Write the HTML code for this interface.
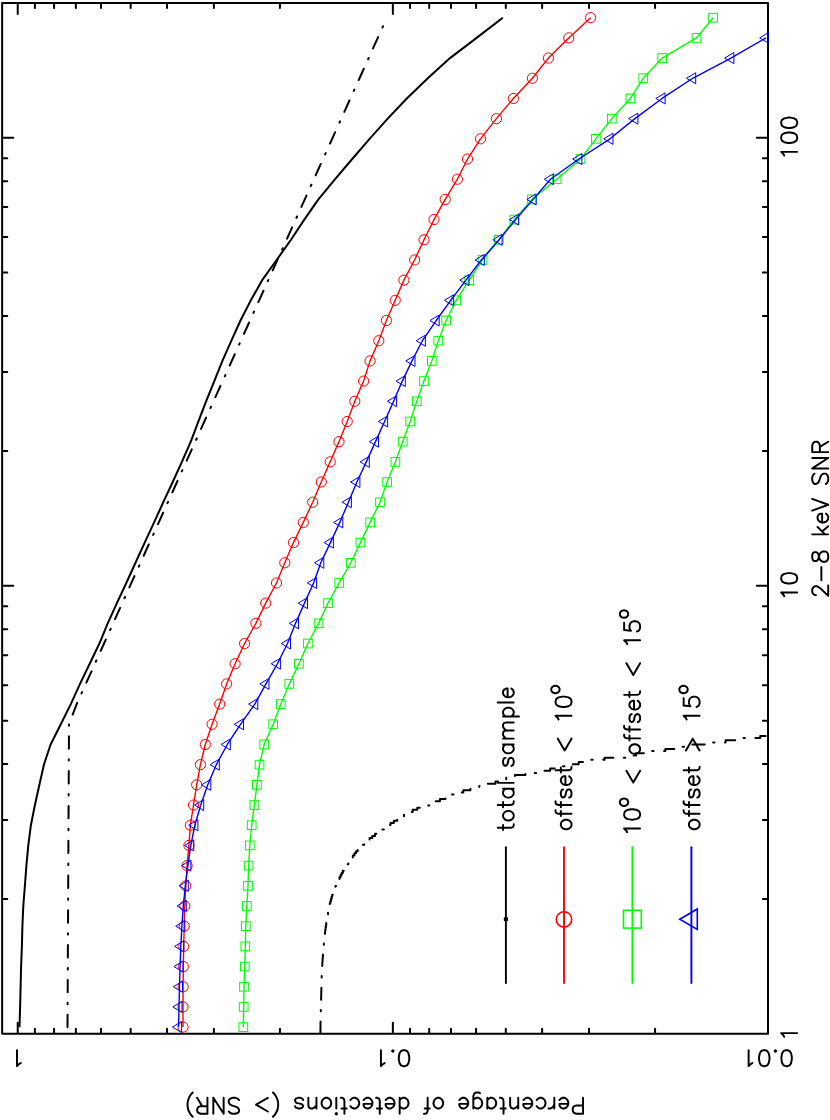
<!DOCTYPE html>
<html><head><meta charset="utf-8"><title>chart</title>
<style>html,body{margin:0;padding:0;background:#fff;font-family:"Liberation Sans",sans-serif;}svg{display:block}</style>
</head><body>
<svg width="830" height="1120" viewBox="0 0 830 1120">
<rect width="830" height="1120" fill="#fff"/>
<path d="M2.15 2.95 H768.00 V1033.85 H2.15 Z M17.73 1033.85 v-11.10 M17.73 2.95 v11.10 M392.86 1033.85 v-11.10 M392.86 2.95 v11.10 M279.93 1033.85 v-5.10 M279.93 2.95 v5.10 M213.88 1033.85 v-5.10 M213.88 2.95 v5.10 M167.01 1033.85 v-5.10 M167.01 2.95 v5.10 M130.66 1033.85 v-5.10 M130.66 2.95 v5.10 M100.95 1033.85 v-5.10 M100.95 2.95 v5.10 M75.84 1033.85 v-5.10 M75.84 2.95 v5.10 M54.08 1033.85 v-5.10 M54.08 2.95 v5.10 M34.90 1033.85 v-5.10 M34.90 2.95 v5.10 M767.99 1033.85 v-11.10 M767.99 2.95 v11.10 M655.06 1033.85 v-5.10 M655.06 2.95 v5.10 M589.01 1033.85 v-5.10 M589.01 2.95 v5.10 M542.14 1033.85 v-5.10 M542.14 2.95 v5.10 M505.79 1033.85 v-5.10 M505.79 2.95 v5.10 M476.08 1033.85 v-5.10 M476.08 2.95 v5.10 M450.97 1033.85 v-5.10 M450.97 2.95 v5.10 M429.21 1033.85 v-5.10 M429.21 2.95 v5.10 M410.03 1033.85 v-5.10 M410.03 2.95 v5.10 M768.00 1033.85 h-11.10 M2.15 1033.85 h11.10 M768.00 898.97 h-5.10 M2.15 898.97 h5.10 M768.00 820.07 h-5.10 M2.15 820.07 h5.10 M768.00 764.08 h-5.10 M2.15 764.08 h5.10 M768.00 720.66 h-5.10 M2.15 720.66 h5.10 M768.00 685.18 h-5.10 M2.15 685.18 h5.10 M768.00 655.19 h-5.10 M2.15 655.19 h5.10 M768.00 629.20 h-5.10 M2.15 629.20 h5.10 M768.00 606.28 h-5.10 M2.15 606.28 h5.10 M768.00 585.78 h-11.10 M2.15 585.78 h11.10 M768.00 450.90 h-5.10 M2.15 450.90 h5.10 M768.00 372.00 h-5.10 M2.15 372.00 h5.10 M768.00 316.01 h-5.10 M2.15 316.01 h5.10 M768.00 272.59 h-5.10 M2.15 272.59 h5.10 M768.00 237.11 h-5.10 M2.15 237.11 h5.10 M768.00 207.12 h-5.10 M2.15 207.12 h5.10 M768.00 181.13 h-5.10 M2.15 181.13 h5.10 M768.00 158.21 h-5.10 M2.15 158.21 h5.10 M768.00 137.71 h-11.10 M2.15 137.71 h11.10" fill="none" stroke="#000" stroke-width="2.00" stroke-linecap="round" stroke-linejoin="round"/>
<path d="M19.50 1027.10 L20.10 1006.91 L20.60 986.72 L21.10 966.54 L21.90 946.35 L22.40 926.16 L23.30 905.97 L24.90 885.78 L26.40 865.60 L28.30 845.41 L30.90 825.22 L34.90 805.03 L39.40 784.84 L43.90 764.66 L50.60 744.47 L60.80 724.28 L70.80 704.09 L80.00 683.90 L89.70 663.72 L99.40 643.53 L107.70 623.34 L116.90 603.15 L126.30 582.96 L135.50 562.78 L144.70 542.59 L154.10 522.40 L163.30 502.21 L172.70 482.02 L181.90 461.84 L190.80 441.65 L198.40 421.46 L206.10 401.27 L214.30 381.08 L222.40 360.90 L231.40 340.71 L240.50 320.52 L250.80 300.33 L262.20 280.14 L276.60 259.96 L291.00 239.77 L304.30 219.58 L318.40 199.39 L335.10 179.20 L352.20 159.02 L369.60 138.83 L387.70 118.64 L406.80 98.45 L427.80 78.26 L450.00 58.08 L476.60 37.89 L502.80 17.70" fill="none" stroke="#000" stroke-width="2.00" stroke-linejoin="round" stroke-linecap="butt"/>
<path d="M67.50 1027.10 L67.60 1006.91 L67.70 986.72 L67.80 966.54 L67.90 946.35 L68.00 926.16 L68.10 905.97 L68.20 885.78 L68.30 865.60 L68.40 845.41 L68.50 825.22 L68.60 805.03 L68.70 784.84 L68.80 764.66 L68.90 744.47 L69.00 724.28 L76.64 704.09 L85.77 683.90 L94.89 663.72 L104.02 643.53 L113.14 623.34 L122.27 603.15 L131.39 582.96 L140.52 562.78 L149.64 542.59 L158.77 522.40 L167.89 502.21 L177.02 482.02 L186.14 461.84 L195.27 441.65 L204.39 421.46 L213.52 401.27 L222.64 381.08 L231.77 360.90 L240.89 340.71 L250.02 320.52 L259.14 300.33 L268.27 280.14 L277.39 259.96 L286.52 239.77 L295.64 219.58 L304.77 199.39 L313.89 179.20 L323.02 159.02 L332.14 138.83 L341.27 118.64 L350.39 98.45 L359.52 78.26 L368.64 58.08 L377.77 37.89 L386.89 17.70" fill="none" stroke="#000" stroke-width="2.00" stroke-dasharray="12.4 10.5 1.4 10.5" stroke-linejoin="round" stroke-linecap="round"/>
<clipPath id="cp"><rect x="2.15" y="2.95" width="765.85" height="1030.90"/></clipPath>
<path clip-path="url(#cp)" d="M320.40 1033.85 L320.40 1031.70 L320.44 1031.70 L320.44 1029.53 L320.47 1029.53 L320.47 1027.35 L320.50 1027.35 L320.50 1025.17 L320.53 1025.17 L320.53 1023.00 L320.56 1023.00 L320.56 1020.82 L320.59 1020.82 L320.59 1018.65 L320.64 1018.65 L320.64 1016.47 L320.69 1016.47 L320.69 1014.30 L320.75 1014.30 L320.75 1012.12 L320.81 1012.12 L320.81 1009.95 L320.87 1009.95 L320.87 1007.77 L320.92 1007.77 L320.92 1005.60 L320.98 1005.60 L320.98 1003.42 L321.04 1003.42 L321.04 1001.25 L321.10 1001.25 L321.10 999.07 L321.15 999.07 L321.15 996.90 L321.20 996.90 L321.20 994.72 L321.26 994.72 L321.26 992.55 L321.31 992.55 L321.31 990.38 L321.36 990.38 L321.36 988.20 L321.42 988.20 L321.42 986.02 L321.47 986.02 L321.47 983.85 L321.52 983.85 L321.52 981.67 L321.58 981.67 L321.58 979.50 L321.63 979.50 L321.63 977.32 L321.68 977.32 L321.68 975.15 L321.78 975.15 L321.78 972.97 L321.90 972.97 L321.90 970.80 L322.03 970.80 L322.03 968.62 L322.15 968.62 L322.15 966.45 L322.27 966.45 L322.27 964.27 L322.39 964.27 L322.39 962.10 L322.51 962.10 L322.51 959.92 L322.64 959.92 L322.64 957.75 L322.82 957.75 L322.82 955.57 L322.99 955.57 L322.99 953.40 L323.17 953.40 L323.17 951.22 L323.35 951.22 L323.35 949.05 L323.53 949.05 L323.53 946.88 L323.70 946.88 L323.70 944.70 L323.88 944.70 L323.88 942.52 L324.11 942.52 L324.11 940.35 L324.35 940.35 L324.35 938.17 L324.58 938.17 L324.58 936.00 L324.81 936.00 L324.81 933.82 L325.05 933.82 L325.05 931.65 L325.28 931.65 L325.28 929.47 L325.61 929.47 L325.61 927.30 L325.94 927.30 L325.94 925.12 L326.27 925.12 L326.27 922.95 L326.60 922.95 L326.60 920.77 L326.93 920.77 L326.93 918.60 L327.26 918.60 L327.26 916.42 L327.61 916.42 L327.61 914.25 L328.04 914.25 L328.04 912.07 L328.47 912.07 L328.47 909.90 L328.89 909.90 L328.89 907.72 L329.32 907.72 L329.32 905.55 L329.75 905.55 L329.75 903.38 L330.34 903.38 L330.34 901.20 L330.96 901.20 L330.96 899.02 L331.58 899.02 L331.58 896.85 L332.20 896.85 L332.20 894.67 L332.82 894.67 L332.82 892.50 L333.67 892.50 L333.67 890.32 L334.57 890.32 L334.57 888.15 L335.46 888.15 L335.46 885.97 L336.39 885.97 L336.39 883.80 L337.43 883.80 L337.43 881.62 L338.46 881.62 L338.46 879.45 L339.50 879.45 L339.50 877.27 L340.57 877.27 L340.57 875.10 L341.68 875.10 L341.68 872.92 L342.80 872.92 L342.80 870.75 L343.91 870.75 L343.91 868.57 L345.30 868.57 L345.30 866.40 L346.84 866.40 L346.84 864.22 L348.37 864.22 L348.37 862.05 L349.86 862.05 L349.86 859.88 L351.34 859.88 L351.34 857.70 L352.84 857.70 L352.84 855.52 L354.45 855.52 L354.45 853.35 L356.06 853.35 L356.06 851.17 L357.67 851.17 L357.67 849.00 L359.74 849.00 L359.74 846.82 L361.99 846.82 L361.99 844.65 L364.27 844.65 L364.27 842.47 L366.92 842.47 L366.92 840.30 L369.58 840.30 L369.58 838.12 L372.23 838.12 L372.23 835.95 L375.04 835.95 L375.04 833.77 L377.99 833.77 L377.99 831.60 L380.94 831.60 L380.94 829.42 L383.90 829.42 L383.90 827.25 L387.20 827.25 L387.20 825.07 L390.51 825.07 L390.51 822.90 L393.82 822.90 L393.82 820.72 L397.22 820.72 L397.22 818.55 L400.62 818.55 L400.62 816.38 L404.02 816.38 L404.02 814.20 L408.18 814.20 L408.18 812.02 L412.68 812.02 L412.68 809.85 L417.28 809.85 L417.28 807.67 L423.23 807.67 L423.23 805.50 L429.19 805.50 L429.19 803.32 L434.57 803.32 L434.57 801.15 L439.92 801.15 L439.92 798.98 L445.46 798.98 L445.46 796.80 L451.10 796.80 L451.10 794.62 L456.99 794.62 L456.99 792.45 L463.28 792.45 L463.28 790.27 L470.41 790.27 L470.41 788.10 L479.31 788.10 L479.31 785.92 L487.66 785.92 L487.66 783.75 L495.43 783.75 L495.43 781.57 L500.81 781.57 L500.81 779.40 L506.18 779.40 L506.18 777.23 L514.88 777.23 L514.88 775.05 L525.41 775.05 L525.41 772.88 L537.65 772.88 L537.65 770.70 L550.18 770.70 L550.18 768.52 L560.02 768.52 L560.02 766.35 L569.45 766.35 L569.45 764.17 L578.67 764.17 L578.67 762.00 L591.00 762.00 L591.00 759.82 L604.57 759.82 L604.57 757.65 L625.47 757.65 L625.47 755.48 L636.07 755.48 L636.07 753.30 L647.93 753.30 L647.93 751.12 L665.32 751.12 L665.32 748.95 L679.98 748.95 L679.98 746.77 L688.03 746.77 L688.03 744.60 L710.97 744.60 L710.97 742.42 L725.62 742.42 L725.62 740.25 L741.98 740.25 L741.98 738.07 L760.22 738.07 L760.22 735.90 L774.92 735.90" fill="none" stroke="#000" stroke-width="2.00" stroke-dasharray="12.4 10.5 1.4 10.5" stroke-linejoin="round" stroke-linecap="round"/>
<g fill="none" stroke="#f00" stroke-linejoin="round">
<path d="M183.00 1027.10 L183.00 1006.91 L183.10 986.72 L183.30 966.54 L183.70 946.35 L184.20 926.16 L184.80 905.97 L185.80 885.78 L187.10 865.60 L188.90 845.41 L190.40 825.22 L193.50 805.03 L196.70 784.84 L200.40 764.66 L205.30 744.47 L212.10 724.28 L219.70 704.09 L226.60 683.90 L235.10 663.72 L244.60 643.53 L255.90 623.34 L265.70 603.15 L276.50 582.96 L284.80 562.78 L293.50 542.59 L303.30 522.40 L312.70 502.21 L321.30 482.02 L330.20 461.84 L339.00 441.65 L347.20 421.46 L354.80 401.27 L363.60 381.08 L370.10 360.90 L378.80 340.71 L386.40 320.52 L395.20 300.33 L403.90 280.14 L414.60 259.96 L424.00 239.77 L434.00 219.58 L445.20 199.39 L457.40 179.20 L467.50 159.02 L480.50 138.83 L496.40 118.64 L513.40 98.45 L532.40 78.26 L548.40 58.08 L568.80 37.89 L590.60 17.70" stroke-width="1.40"/>
<g stroke-width="1.00"><circle cx="183.00" cy="1027.10" r="5.10"/><circle cx="183.00" cy="1006.91" r="5.10"/><circle cx="183.10" cy="986.72" r="5.10"/><circle cx="183.30" cy="966.54" r="5.10"/><circle cx="183.70" cy="946.35" r="5.10"/><circle cx="184.20" cy="926.16" r="5.10"/><circle cx="184.80" cy="905.97" r="5.10"/><circle cx="185.80" cy="885.78" r="5.10"/><circle cx="187.10" cy="865.60" r="5.10"/><circle cx="188.90" cy="845.41" r="5.10"/><circle cx="190.40" cy="825.22" r="5.10"/><circle cx="193.50" cy="805.03" r="5.10"/><circle cx="196.70" cy="784.84" r="5.10"/><circle cx="200.40" cy="764.66" r="5.10"/><circle cx="205.30" cy="744.47" r="5.10"/><circle cx="212.10" cy="724.28" r="5.10"/><circle cx="219.70" cy="704.09" r="5.10"/><circle cx="226.60" cy="683.90" r="5.10"/><circle cx="235.10" cy="663.72" r="5.10"/><circle cx="244.60" cy="643.53" r="5.10"/><circle cx="255.90" cy="623.34" r="5.10"/><circle cx="265.70" cy="603.15" r="5.10"/><circle cx="276.50" cy="582.96" r="5.10"/><circle cx="284.80" cy="562.78" r="5.10"/><circle cx="293.50" cy="542.59" r="5.10"/><circle cx="303.30" cy="522.40" r="5.10"/><circle cx="312.70" cy="502.21" r="5.10"/><circle cx="321.30" cy="482.02" r="5.10"/><circle cx="330.20" cy="461.84" r="5.10"/><circle cx="339.00" cy="441.65" r="5.10"/><circle cx="347.20" cy="421.46" r="5.10"/><circle cx="354.80" cy="401.27" r="5.10"/><circle cx="363.60" cy="381.08" r="5.10"/><circle cx="370.10" cy="360.90" r="5.10"/><circle cx="378.80" cy="340.71" r="5.10"/><circle cx="386.40" cy="320.52" r="5.10"/><circle cx="395.20" cy="300.33" r="5.10"/><circle cx="403.90" cy="280.14" r="5.10"/><circle cx="414.60" cy="259.96" r="5.10"/><circle cx="424.00" cy="239.77" r="5.10"/><circle cx="434.00" cy="219.58" r="5.10"/><circle cx="445.20" cy="199.39" r="5.10"/><circle cx="457.40" cy="179.20" r="5.10"/><circle cx="467.50" cy="159.02" r="5.10"/><circle cx="480.50" cy="138.83" r="5.10"/><circle cx="496.40" cy="118.64" r="5.10"/><circle cx="513.40" cy="98.45" r="5.10"/><circle cx="532.40" cy="78.26" r="5.10"/><circle cx="548.40" cy="58.08" r="5.10"/><circle cx="568.80" cy="37.89" r="5.10"/><circle cx="590.60" cy="17.70" r="5.10"/></g>
</g>
<g fill="none" stroke="#0f0" stroke-linejoin="miter">
<path d="M243.30 1027.10 L243.70 1006.91 L244.00 986.72 L244.80 966.54 L245.30 946.35 L245.80 926.16 L246.80 905.97 L248.00 885.78 L248.70 865.60 L249.80 845.41 L251.70 825.22 L254.40 805.03 L256.90 784.84 L259.50 764.66 L264.20 744.47 L273.20 724.28 L280.80 704.09 L289.30 683.90 L298.90 663.72 L307.90 643.53 L318.60 623.34 L328.00 603.15 L339.20 582.96 L350.80 562.78 L360.40 542.59 L370.10 522.40 L380.00 502.21 L387.10 482.02 L395.40 461.84 L402.70 441.65 L410.20 421.46 L416.80 401.27 L424.00 381.08 L431.80 360.90 L438.30 340.71 L446.20 320.52 L456.20 300.33 L469.20 280.14 L482.50 259.96 L498.90 239.77 L514.30 219.58 L532.00 199.39 L556.70 179.20 L580.50 159.02 L595.90 138.83 L611.80 118.64 L630.40 98.45 L643.30 78.26 L662.20 58.08 L696.50 37.89 L713.10 17.70" stroke-width="1.40" stroke-linejoin="round"/>
<g stroke-width="1.00"><rect x="238.95" y="1022.75" width="8.70" height="8.70"/><rect x="239.35" y="1002.56" width="8.70" height="8.70"/><rect x="239.65" y="982.37" width="8.70" height="8.70"/><rect x="240.45" y="962.19" width="8.70" height="8.70"/><rect x="240.95" y="942.00" width="8.70" height="8.70"/><rect x="241.45" y="921.81" width="8.70" height="8.70"/><rect x="242.45" y="901.62" width="8.70" height="8.70"/><rect x="243.65" y="881.43" width="8.70" height="8.70"/><rect x="244.35" y="861.25" width="8.70" height="8.70"/><rect x="245.45" y="841.06" width="8.70" height="8.70"/><rect x="247.35" y="820.87" width="8.70" height="8.70"/><rect x="250.05" y="800.68" width="8.70" height="8.70"/><rect x="252.55" y="780.49" width="8.70" height="8.70"/><rect x="255.15" y="760.31" width="8.70" height="8.70"/><rect x="259.85" y="740.12" width="8.70" height="8.70"/><rect x="268.85" y="719.93" width="8.70" height="8.70"/><rect x="276.45" y="699.74" width="8.70" height="8.70"/><rect x="284.95" y="679.55" width="8.70" height="8.70"/><rect x="294.55" y="659.37" width="8.70" height="8.70"/><rect x="303.55" y="639.18" width="8.70" height="8.70"/><rect x="314.25" y="618.99" width="8.70" height="8.70"/><rect x="323.65" y="598.80" width="8.70" height="8.70"/><rect x="334.85" y="578.61" width="8.70" height="8.70"/><rect x="346.45" y="558.43" width="8.70" height="8.70"/><rect x="356.05" y="538.24" width="8.70" height="8.70"/><rect x="365.75" y="518.05" width="8.70" height="8.70"/><rect x="375.65" y="497.86" width="8.70" height="8.70"/><rect x="382.75" y="477.67" width="8.70" height="8.70"/><rect x="391.05" y="457.49" width="8.70" height="8.70"/><rect x="398.35" y="437.30" width="8.70" height="8.70"/><rect x="405.85" y="417.11" width="8.70" height="8.70"/><rect x="412.45" y="396.92" width="8.70" height="8.70"/><rect x="419.65" y="376.73" width="8.70" height="8.70"/><rect x="427.45" y="356.55" width="8.70" height="8.70"/><rect x="433.95" y="336.36" width="8.70" height="8.70"/><rect x="441.85" y="316.17" width="8.70" height="8.70"/><rect x="451.85" y="295.98" width="8.70" height="8.70"/><rect x="464.85" y="275.79" width="8.70" height="8.70"/><rect x="478.15" y="255.61" width="8.70" height="8.70"/><rect x="494.55" y="235.42" width="8.70" height="8.70"/><rect x="509.95" y="215.23" width="8.70" height="8.70"/><rect x="527.65" y="195.04" width="8.70" height="8.70"/><rect x="552.35" y="174.85" width="8.70" height="8.70"/><rect x="576.15" y="154.67" width="8.70" height="8.70"/><rect x="591.55" y="134.48" width="8.70" height="8.70"/><rect x="607.45" y="114.29" width="8.70" height="8.70"/><rect x="626.05" y="94.10" width="8.70" height="8.70"/><rect x="638.95" y="73.91" width="8.70" height="8.70"/><rect x="657.85" y="53.73" width="8.70" height="8.70"/><rect x="692.15" y="33.54" width="8.70" height="8.70"/><rect x="708.75" y="13.35" width="8.70" height="8.70"/></g>
</g>
<g fill="none" stroke="#00f" stroke-linejoin="miter" clip-path="url(#cp2)">
<path d="M178.60 1027.10 L179.00 1006.91 L179.50 986.72 L180.10 966.54 L180.80 946.35 L181.90 926.16 L183.30 905.97 L185.30 885.78 L187.90 865.60 L190.80 845.41 L194.90 825.22 L200.70 805.03 L207.80 784.84 L216.30 764.66 L227.30 744.47 L240.50 724.28 L254.80 704.09 L266.00 683.90 L277.40 663.72 L287.50 643.53 L295.50 623.34 L304.50 603.15 L313.60 582.96 L320.80 562.78 L330.40 542.59 L339.80 522.40 L348.40 502.21 L356.90 482.02 L366.30 461.84 L375.50 441.65 L384.60 421.46 L393.60 401.27 L402.30 381.08 L412.00 360.90 L422.40 340.71 L436.20 320.52 L450.70 300.33 L466.00 280.14 L481.30 259.96 L499.10 239.77 L515.70 219.58 L533.10 199.39 L550.50 179.20 L578.90 159.02 L610.00 138.83 L634.90 118.64 L662.10 98.45 L692.70 78.26 L730.90 58.08 L765.90 37.89" stroke-width="1.40" stroke-linejoin="round"/>
<g stroke-width="1.00"><path d="M172.40 1027.10 L181.60 1021.55 L181.60 1032.65 Z"/><path d="M172.80 1006.91 L182.00 1001.36 L182.00 1012.46 Z"/><path d="M173.30 986.72 L182.50 981.17 L182.50 992.27 Z"/><path d="M173.90 966.54 L183.10 960.99 L183.10 972.09 Z"/><path d="M174.60 946.35 L183.80 940.80 L183.80 951.90 Z"/><path d="M175.70 926.16 L184.90 920.61 L184.90 931.71 Z"/><path d="M177.10 905.97 L186.30 900.42 L186.30 911.52 Z"/><path d="M179.10 885.78 L188.30 880.23 L188.30 891.33 Z"/><path d="M181.70 865.60 L190.90 860.05 L190.90 871.15 Z"/><path d="M184.60 845.41 L193.80 839.86 L193.80 850.96 Z"/><path d="M188.70 825.22 L197.90 819.67 L197.90 830.77 Z"/><path d="M194.50 805.03 L203.70 799.48 L203.70 810.58 Z"/><path d="M201.60 784.84 L210.80 779.29 L210.80 790.39 Z"/><path d="M210.10 764.66 L219.30 759.11 L219.30 770.21 Z"/><path d="M221.10 744.47 L230.30 738.92 L230.30 750.02 Z"/><path d="M234.30 724.28 L243.50 718.73 L243.50 729.83 Z"/><path d="M248.60 704.09 L257.80 698.54 L257.80 709.64 Z"/><path d="M259.80 683.90 L269.00 678.35 L269.00 689.45 Z"/><path d="M271.20 663.72 L280.40 658.17 L280.40 669.27 Z"/><path d="M281.30 643.53 L290.50 637.98 L290.50 649.08 Z"/><path d="M289.30 623.34 L298.50 617.79 L298.50 628.89 Z"/><path d="M298.30 603.15 L307.50 597.60 L307.50 608.70 Z"/><path d="M307.40 582.96 L316.60 577.41 L316.60 588.51 Z"/><path d="M314.60 562.78 L323.80 557.23 L323.80 568.33 Z"/><path d="M324.20 542.59 L333.40 537.04 L333.40 548.14 Z"/><path d="M333.60 522.40 L342.80 516.85 L342.80 527.95 Z"/><path d="M342.20 502.21 L351.40 496.66 L351.40 507.76 Z"/><path d="M350.70 482.02 L359.90 476.47 L359.90 487.57 Z"/><path d="M360.10 461.84 L369.30 456.29 L369.30 467.39 Z"/><path d="M369.30 441.65 L378.50 436.10 L378.50 447.20 Z"/><path d="M378.40 421.46 L387.60 415.91 L387.60 427.01 Z"/><path d="M387.40 401.27 L396.60 395.72 L396.60 406.82 Z"/><path d="M396.10 381.08 L405.30 375.53 L405.30 386.63 Z"/><path d="M405.80 360.90 L415.00 355.35 L415.00 366.45 Z"/><path d="M416.20 340.71 L425.40 335.16 L425.40 346.26 Z"/><path d="M430.00 320.52 L439.20 314.97 L439.20 326.07 Z"/><path d="M444.50 300.33 L453.70 294.78 L453.70 305.88 Z"/><path d="M459.80 280.14 L469.00 274.59 L469.00 285.69 Z"/><path d="M475.10 259.96 L484.30 254.41 L484.30 265.51 Z"/><path d="M492.90 239.77 L502.10 234.22 L502.10 245.32 Z"/><path d="M509.50 219.58 L518.70 214.03 L518.70 225.13 Z"/><path d="M526.90 199.39 L536.10 193.84 L536.10 204.94 Z"/><path d="M544.30 179.20 L553.50 173.65 L553.50 184.75 Z"/><path d="M572.70 159.02 L581.90 153.47 L581.90 164.57 Z"/><path d="M603.80 138.83 L613.00 133.28 L613.00 144.38 Z"/><path d="M628.70 118.64 L637.90 113.09 L637.90 124.19 Z"/><path d="M655.90 98.45 L665.10 92.90 L665.10 104.00 Z"/><path d="M686.50 78.26 L695.70 72.71 L695.70 83.81 Z"/><path d="M724.70 58.08 L733.90 52.53 L733.90 63.63 Z"/><path d="M759.70 37.89 L768.90 32.34 L768.90 43.44 Z"/></g>
</g>
<clipPath id="cp2"><rect x="0" y="0" width="768.90" height="1120"/></clipPath>
<path d="M505.90 847.20 V983.00" stroke="#000" stroke-width="1.90" stroke-linecap="round" fill="none"/>
<path d="M564.00 847.20 V983.00" stroke="#f00" stroke-width="1.90" stroke-linecap="round" fill="none"/>
<path d="M632.40 847.20 V983.00" stroke="#0f0" stroke-width="1.90" stroke-linecap="round" fill="none"/>
<path d="M691.40 847.20 V983.00" stroke="#00f" stroke-width="1.90" stroke-linecap="round" fill="none"/>
<rect x="503.80" y="917.10" width="4.2" height="4.2" rx="1.3" fill="#000"/>
<g fill="none" stroke-width="1.6">
<g stroke="#f00"><circle cx="564.00" cy="919.40" r="7.70"/></g>
<g stroke="#0f0"><rect x="623.50" y="910.30" width="17.80" height="17.80"/></g>
<g stroke="#00f"><path d="M679.80 919.20 L697.30 909.00 L697.30 929.40 Z"/></g>
</g>
<path d="M20.71 1063.12 L19.22 1063.88 L16.99 1066.16 L16.98 1050.20 M404.78 1066.16 L407.01 1065.40 L408.50 1063.12 L409.25 1059.32 L409.25 1057.04 L408.50 1053.24 L407.01 1050.96 L404.78 1050.20 L403.29 1050.20 L401.06 1050.96 L399.56 1053.24 L398.82 1057.04 L398.82 1059.32 L399.56 1063.12 L401.06 1065.40 L403.29 1066.16 L404.78 1066.16 M392.86 1051.72 L393.61 1050.96 L392.86 1050.20 L392.12 1050.96 L392.86 1051.72 M384.67 1063.12 L383.18 1063.88 L380.94 1066.16 L380.94 1050.20 M787.36 1066.16 L789.60 1065.40 L791.09 1063.12 L791.83 1059.32 L791.83 1057.04 L791.09 1053.24 L789.60 1050.96 L787.36 1050.20 L785.87 1050.20 L783.63 1050.96 L782.14 1053.24 L781.40 1057.04 L781.40 1059.32 L782.14 1063.12 L783.63 1065.40 L785.87 1066.16 L787.36 1066.16 M775.44 1051.72 L776.19 1050.96 L775.44 1050.20 L774.70 1050.96 L775.44 1051.72 M765.01 1066.16 L767.25 1065.40 L768.74 1063.12 L769.48 1059.32 L769.48 1057.04 L768.74 1053.24 L767.25 1050.96 L765.01 1050.20 L763.52 1050.20 L761.28 1050.96 L759.79 1053.24 L759.05 1057.04 L759.05 1059.32 L759.79 1063.12 L761.28 1065.40 L763.52 1066.16 L765.01 1066.16 M752.35 1063.12 L750.86 1063.88 L748.62 1066.16 L748.62 1050.20 M784.23 1036.83 L783.47 1035.34 L781.19 1033.11 L797.15 1033.11 M784.23 596.21 L783.47 594.72 L781.19 592.49 L797.15 592.49 M781.19 579.07 L781.95 581.31 L784.23 582.80 L788.03 583.54 L790.31 583.54 L794.11 582.80 L796.39 581.31 L797.15 579.07 L797.15 577.58 L796.39 575.35 L794.11 573.86 L790.31 573.12 L788.03 573.12 L784.23 573.86 L781.95 575.35 L781.19 577.58 L781.19 579.07 M784.23 155.59 L783.47 154.10 L781.19 151.86 L797.15 151.86 M781.19 138.45 L781.95 140.69 L784.23 142.18 L788.03 142.92 L790.31 142.92 L794.11 142.18 L796.39 140.69 L797.15 138.45 L797.15 136.96 L796.39 134.73 L794.11 133.24 L790.31 132.49 L788.03 132.49 L784.23 133.24 L781.95 134.73 L781.19 136.96 L781.19 138.45 M781.19 123.55 L781.95 125.79 L784.23 127.28 L788.03 128.02 L790.31 128.02 L794.11 127.28 L796.39 125.79 L797.15 123.55 L797.15 122.06 L796.39 119.83 L794.11 118.34 L790.31 117.59 L788.03 117.59 L784.23 118.34 L781.95 119.83 L781.19 122.06 L781.19 123.55 M816.04 595.12 L815.28 595.12 L813.76 594.38 L813.00 593.64 L812.24 592.16 L812.24 589.19 L813.00 587.71 L813.76 586.97 L815.28 586.23 L816.80 586.23 L818.32 586.97 L820.60 588.45 L828.20 595.86 L828.20 585.49 M821.36 580.30 L821.36 566.96 M812.24 558.07 L813.00 560.30 L814.52 561.04 L816.04 561.04 L817.56 560.30 L818.32 558.81 L819.08 555.85 L819.84 553.63 L821.36 552.14 L822.88 551.40 L825.16 551.40 L826.68 552.14 L827.44 552.89 L828.20 555.11 L828.20 558.07 L827.44 560.30 L826.68 561.04 L825.16 561.78 L822.88 561.78 L821.36 561.04 L819.84 559.55 L819.08 557.33 L818.32 554.37 L817.56 552.89 L816.04 552.14 L814.52 552.14 L813.00 552.89 L812.24 555.11 L812.24 558.07 M812.24 534.36 L828.20 534.36 M817.56 526.95 L825.16 534.36 M822.12 531.40 L828.20 526.21 M822.12 522.50 L822.12 513.61 L820.60 513.61 L819.08 514.35 L818.32 515.09 L817.56 516.58 L817.56 518.80 L818.32 520.28 L819.84 521.76 L822.12 522.50 L823.64 522.50 L825.92 521.76 L827.44 520.28 L828.20 518.80 L828.20 516.58 L827.44 515.09 L825.92 513.61 M812.24 510.65 L828.20 504.72 M812.24 498.79 L828.20 504.72 M814.52 473.60 L813.00 475.08 L812.24 477.30 L812.24 480.27 L813.00 482.49 L814.52 483.97 L816.04 483.97 L817.56 483.23 L818.32 482.49 L819.08 481.01 L820.60 476.56 L821.36 475.08 L822.12 474.34 L823.64 473.60 L825.92 473.60 L827.44 475.08 L828.20 477.30 L828.20 480.27 L827.44 482.49 L825.92 483.97 M812.24 468.41 L828.20 468.41 M812.24 468.41 L828.20 458.04 M812.24 458.04 L828.20 458.04 M812.24 452.11 L828.20 452.11 M812.24 452.11 L812.24 445.44 L813.00 443.22 L813.76 442.48 L815.28 441.74 L816.80 441.74 L818.32 442.48 L819.08 443.22 L819.84 445.44 L819.84 452.11 M819.84 446.92 L828.20 441.74 M583.05 1113.76 L583.05 1097.80 M583.05 1113.76 L576.42 1113.76 L574.21 1113.00 L573.48 1112.24 L572.74 1110.72 L572.74 1108.44 L573.48 1106.92 L574.21 1106.16 L576.42 1105.40 L583.05 1105.40 M568.32 1103.88 L559.48 1103.88 L559.48 1105.40 L560.22 1106.92 L560.96 1107.68 L562.43 1108.44 L564.64 1108.44 L566.11 1107.68 L567.58 1106.16 L568.32 1103.88 L568.32 1102.36 L567.58 1100.08 L566.11 1098.56 L564.64 1097.80 L562.43 1097.80 L560.96 1098.56 L559.48 1100.08 M554.33 1108.44 L554.33 1097.80 M554.33 1103.88 L553.59 1106.16 L552.12 1107.68 L550.64 1108.44 L548.43 1108.44 M536.65 1106.16 L538.12 1107.68 L539.60 1108.44 L541.81 1108.44 L543.28 1107.68 L544.75 1106.16 L545.49 1103.88 L545.49 1102.36 L544.75 1100.08 L543.28 1098.56 L541.81 1097.80 L539.60 1097.80 L538.12 1098.56 L536.65 1100.08 M532.23 1103.88 L523.39 1103.88 L523.39 1105.40 L524.13 1106.92 L524.87 1107.68 L526.34 1108.44 L528.55 1108.44 L530.02 1107.68 L531.50 1106.16 L532.23 1103.88 L532.23 1102.36 L531.50 1100.08 L530.02 1098.56 L528.55 1097.80 L526.34 1097.80 L524.87 1098.56 L523.39 1100.08 M518.24 1108.44 L518.24 1097.80 M518.24 1105.40 L516.03 1107.68 L514.56 1108.44 L512.35 1108.44 L510.87 1107.68 L510.14 1105.40 L510.14 1097.80 M503.51 1113.76 L503.51 1100.84 L502.77 1098.56 L501.30 1097.80 L499.83 1097.80 M505.72 1108.44 L500.56 1108.44 M487.31 1108.44 L487.31 1097.80 M487.31 1106.16 L488.78 1107.68 L490.25 1108.44 L492.46 1108.44 L493.93 1107.68 L495.41 1106.16 L496.14 1103.88 L496.14 1102.36 L495.41 1100.08 L493.93 1098.56 L492.46 1097.80 L490.25 1097.80 L488.78 1098.56 L487.31 1100.08 M473.31 1108.44 L473.31 1096.28 L474.05 1094.00 L474.78 1093.24 L476.26 1092.48 L478.47 1092.48 L479.94 1093.24 M473.31 1106.16 L474.78 1107.68 L476.26 1108.44 L478.47 1108.44 L479.94 1107.68 L481.41 1106.16 L482.15 1103.88 L482.15 1102.36 L481.41 1100.08 L479.94 1098.56 L478.47 1097.80 L476.26 1097.80 L474.78 1098.56 L473.31 1100.08 M468.16 1103.88 L459.32 1103.88 L459.32 1105.40 L460.05 1106.92 L460.79 1107.68 L462.26 1108.44 L464.47 1108.44 L465.95 1107.68 L467.42 1106.16 L468.16 1103.88 L468.16 1102.36 L467.42 1100.08 L465.95 1098.56 L464.47 1097.80 L462.26 1097.80 L460.79 1098.56 L459.32 1100.08 M439.43 1108.44 L440.91 1107.68 L442.38 1106.16 L443.12 1103.88 L443.12 1102.36 L442.38 1100.08 L440.91 1098.56 L439.43 1097.80 L437.22 1097.80 L435.75 1098.56 L434.28 1100.08 L433.54 1102.36 L433.54 1103.88 L434.28 1106.16 L435.75 1107.68 L437.22 1108.44 L439.43 1108.44 M423.97 1113.76 L425.44 1113.76 L426.91 1113.00 L427.65 1110.72 L427.65 1097.80 M429.86 1108.44 L424.70 1108.44 M399.66 1113.76 L399.66 1097.80 M399.66 1106.16 L401.13 1107.68 L402.61 1108.44 L404.82 1108.44 L406.29 1107.68 L407.76 1106.16 L408.50 1103.88 L408.50 1102.36 L407.76 1100.08 L406.29 1098.56 L404.82 1097.80 L402.61 1097.80 L401.13 1098.56 L399.66 1100.08 M394.51 1103.88 L385.67 1103.88 L385.67 1105.40 L386.40 1106.92 L387.14 1107.68 L388.61 1108.44 L390.82 1108.44 L392.30 1107.68 L393.77 1106.16 L394.51 1103.88 L394.51 1102.36 L393.77 1100.08 L392.30 1098.56 L390.82 1097.80 L388.61 1097.80 L387.14 1098.56 L385.67 1100.08 M379.78 1113.76 L379.78 1100.84 L379.04 1098.56 L377.57 1097.80 L376.09 1097.80 M381.99 1108.44 L376.83 1108.44 M372.41 1103.88 L363.57 1103.88 L363.57 1105.40 L364.31 1106.92 L365.05 1107.68 L366.52 1108.44 L368.73 1108.44 L370.20 1107.68 L371.67 1106.16 L372.41 1103.88 L372.41 1102.36 L371.67 1100.08 L370.20 1098.56 L368.73 1097.80 L366.52 1097.80 L365.05 1098.56 L363.57 1100.08 M350.32 1106.16 L351.79 1107.68 L353.26 1108.44 L355.47 1108.44 L356.94 1107.68 L358.42 1106.16 L359.15 1103.88 L359.15 1102.36 L358.42 1100.08 L356.94 1098.56 L355.47 1097.80 L353.26 1097.80 L351.79 1098.56 L350.32 1100.08 M344.42 1113.76 L344.42 1100.84 L343.69 1098.56 L342.21 1097.80 L340.74 1097.80 M346.63 1108.44 L341.48 1108.44 M337.06 1113.76 L336.32 1113.00 L335.59 1113.76 L336.32 1114.52 L337.06 1113.76 M336.32 1108.44 L336.32 1097.80 M327.48 1108.44 L328.96 1107.68 L330.43 1106.16 L331.17 1103.88 L331.17 1102.36 L330.43 1100.08 L328.96 1098.56 L327.48 1097.80 L325.28 1097.80 L323.80 1098.56 L322.33 1100.08 L321.59 1102.36 L321.59 1103.88 L322.33 1106.16 L323.80 1107.68 L325.28 1108.44 L327.48 1108.44 M316.44 1108.44 L316.44 1097.80 M316.44 1105.40 L314.23 1107.68 L312.75 1108.44 L310.55 1108.44 L309.07 1107.68 L308.34 1105.40 L308.34 1097.80 M295.08 1106.16 L295.82 1107.68 L298.02 1108.44 L300.23 1108.44 L302.44 1107.68 L303.18 1106.16 L302.44 1104.64 L300.97 1103.88 L297.29 1103.12 L295.82 1102.36 L295.08 1100.84 L295.08 1100.08 L295.82 1098.56 L298.02 1097.80 L300.23 1097.80 L302.44 1098.56 L303.18 1100.08 M272.98 1116.80 L274.46 1115.28 L275.93 1113.00 L277.40 1109.96 L278.14 1106.16 L278.14 1103.12 L277.40 1099.32 L275.93 1096.28 L274.46 1094.00 L272.98 1092.48 M267.83 1111.48 L256.04 1104.64 L267.83 1097.80 M228.79 1111.48 L230.27 1113.00 L232.48 1113.76 L235.42 1113.76 L237.63 1113.00 L239.10 1111.48 L239.10 1109.96 L238.37 1108.44 L237.63 1107.68 L236.16 1106.92 L231.74 1105.40 L230.27 1104.64 L229.53 1103.88 L228.79 1102.36 L228.79 1100.08 L230.27 1098.56 L232.48 1097.80 L235.42 1097.80 L237.63 1098.56 L239.10 1100.08 M223.64 1113.76 L223.64 1097.80 M223.64 1113.76 L213.33 1097.80 M213.33 1113.76 L213.33 1097.80 M207.44 1113.76 L207.44 1097.80 M207.44 1113.76 L200.81 1113.76 L198.60 1113.00 L197.86 1112.24 L197.12 1110.72 L197.12 1109.20 L197.86 1107.68 L198.60 1106.92 L200.81 1106.16 L207.44 1106.16 M202.28 1106.16 L197.12 1097.80 M192.71 1116.80 L191.23 1115.28 L189.76 1113.00 L188.29 1109.96 L187.55 1106.16 L187.55 1103.12 L188.29 1099.32 L189.76 1096.28 L191.23 1094.00 L192.71 1092.48 M497.74 827.82 L510.66 827.82 L512.94 827.08 L513.70 825.60 L513.70 824.13 M503.06 830.03 L503.06 824.87 M503.06 816.76 L503.82 818.23 L505.34 819.71 L507.62 820.45 L509.14 820.45 L511.42 819.71 L512.94 818.23 L513.70 816.76 L513.70 814.55 L512.94 813.08 L511.42 811.60 L509.14 810.86 L507.62 810.86 L505.34 811.60 L503.82 813.08 L503.06 814.55 L503.06 816.76 M497.74 804.97 L510.66 804.97 L512.94 804.23 L513.70 802.76 L513.70 801.28 M503.06 807.18 L503.06 802.02 M503.06 788.75 L513.70 788.75 M505.34 788.75 L503.82 790.23 L503.06 791.70 L503.06 793.91 L503.82 795.39 L505.34 796.86 L507.62 797.60 L509.14 797.60 L511.42 796.86 L512.94 795.39 L513.70 793.91 L513.70 791.70 L512.94 790.23 L511.42 788.75 M497.74 782.86 L513.70 782.86 M505.34 757.80 L503.82 758.54 L503.06 760.75 L503.06 762.96 L503.82 765.17 L505.34 765.91 L506.86 765.17 L507.62 763.70 L508.38 760.01 L509.14 758.54 L510.66 757.80 L511.42 757.80 L512.94 758.54 L513.70 760.75 L513.70 762.96 L512.94 765.17 L511.42 765.91 M503.06 744.53 L513.70 744.53 M505.34 744.53 L503.82 746.01 L503.06 747.48 L503.06 749.69 L503.82 751.17 L505.34 752.64 L507.62 753.38 L509.14 753.38 L511.42 752.64 L512.94 751.17 L513.70 749.69 L513.70 747.48 L512.94 746.01 L511.42 744.53 M503.06 738.64 L513.70 738.64 M506.10 738.64 L503.82 736.43 L503.06 734.95 L503.06 732.74 L503.82 731.27 L506.10 730.53 L513.70 730.53 M506.10 730.53 L503.82 728.32 L503.06 726.85 L503.06 724.63 L503.82 723.16 L506.10 722.42 L513.70 722.42 M503.06 716.53 L519.02 716.53 M505.34 716.53 L503.82 715.05 L503.06 713.58 L503.06 711.37 L503.82 709.89 L505.34 708.42 L507.62 707.68 L509.14 707.68 L511.42 708.42 L512.94 709.89 L513.70 711.37 L513.70 713.58 L512.94 715.05 L511.42 716.53 M497.74 702.52 L513.70 702.52 M507.62 697.37 L507.62 688.52 L506.10 688.52 L504.58 689.26 L503.82 690.00 L503.06 691.47 L503.06 693.68 L503.82 695.15 L505.34 696.63 L507.62 697.37 L509.14 697.37 L511.42 696.63 L512.94 695.15 L513.70 693.68 L513.70 691.47 L512.94 690.00 L511.42 688.52 M560.86 825.60 L561.62 827.08 L563.14 828.55 L565.42 829.29 L566.94 829.29 L569.22 828.55 L570.74 827.08 L571.50 825.60 L571.50 823.39 L570.74 821.92 L569.22 820.45 L566.94 819.71 L565.42 819.71 L563.14 820.45 L561.62 821.92 L560.86 823.39 L560.86 825.60 M555.54 810.13 L555.54 811.60 L556.30 813.08 L558.58 813.81 L571.50 813.81 M560.86 816.02 L560.86 810.86 M555.54 801.28 L555.54 802.76 L556.30 804.23 L558.58 804.97 L571.50 804.97 M560.86 807.18 L560.86 802.02 M563.14 789.49 L561.62 790.23 L560.86 792.44 L560.86 794.65 L561.62 796.86 L563.14 797.60 L564.66 796.86 L565.42 795.39 L566.18 791.70 L566.94 790.23 L568.46 789.49 L569.22 789.49 L570.74 790.23 L571.50 792.44 L571.50 794.65 L570.74 796.86 L569.22 797.60 M565.42 785.07 L565.42 776.23 L563.90 776.23 L562.38 776.96 L561.62 777.70 L560.86 779.17 L560.86 781.38 L561.62 782.86 L563.14 784.33 L565.42 785.07 L566.94 785.07 L569.22 784.33 L570.74 782.86 L571.50 781.38 L571.50 779.17 L570.74 777.70 L569.22 776.23 M555.54 770.33 L568.46 770.33 L570.74 769.59 L571.50 768.12 L571.50 766.64 M560.86 772.54 L560.86 767.38 M557.82 738.64 L564.66 750.43 L571.50 738.64 M558.58 719.48 L557.82 718.00 L555.54 715.79 L571.50 715.79 M555.54 702.52 L556.30 704.74 L558.58 706.21 L562.38 706.95 L564.66 706.95 L568.46 706.21 L570.74 704.74 L571.50 702.52 L571.50 701.05 L570.74 698.84 L568.46 697.37 L564.66 696.63 L562.38 696.63 L558.58 697.37 L556.30 698.84 L555.54 701.05 L555.54 702.52 M551.27 690.38 L551.86 691.53 L553.05 692.68 L554.83 693.25 L556.01 693.25 L557.79 692.68 L558.98 691.53 L559.57 690.38 L559.57 688.65 L558.98 687.50 L557.79 686.36 L556.01 685.78 L554.83 685.78 L553.05 686.36 L551.86 687.50 L551.27 688.65 L551.27 690.38 M627.18 832.18 L626.42 830.70 L624.14 828.49 L640.10 828.49 M624.14 815.23 L624.90 817.44 L627.18 818.91 L630.98 819.65 L633.26 819.65 L637.06 818.91 L639.34 817.44 L640.10 815.23 L640.10 813.75 L639.34 811.54 L637.06 810.07 L633.26 809.33 L630.98 809.33 L627.18 810.07 L624.90 811.54 L624.14 813.75 L624.14 815.23 M619.87 803.08 L620.46 804.23 L621.65 805.38 L623.43 805.96 L624.61 805.96 L626.39 805.38 L627.58 804.23 L628.17 803.08 L628.17 801.36 L627.58 800.21 L626.39 799.06 L624.61 798.48 L623.43 798.48 L621.65 799.06 L620.46 800.21 L619.87 801.36 L619.87 803.08 M626.42 770.79 L633.26 782.58 L640.10 770.79 M629.46 750.15 L630.22 751.62 L631.74 753.10 L634.02 753.83 L635.54 753.83 L637.82 753.10 L639.34 751.62 L640.10 750.15 L640.10 747.94 L639.34 746.46 L637.82 744.99 L635.54 744.25 L634.02 744.25 L631.74 744.99 L630.22 746.46 L629.46 747.94 L629.46 750.15 M624.14 734.67 L624.14 736.15 L624.90 737.62 L627.18 738.36 L640.10 738.36 M629.46 740.57 L629.46 735.41 M624.14 725.83 L624.14 727.30 L624.90 728.78 L627.18 729.51 L640.10 729.51 M629.46 731.72 L629.46 726.57 M631.74 714.04 L630.22 714.77 L629.46 716.98 L629.46 719.20 L630.22 721.41 L631.74 722.14 L633.26 721.41 L634.02 719.93 L634.78 716.25 L635.54 714.77 L637.06 714.04 L637.82 714.04 L639.34 714.77 L640.10 716.98 L640.10 719.20 L639.34 721.41 L637.82 722.14 M634.02 709.61 L634.02 700.77 L632.50 700.77 L630.98 701.51 L630.22 702.24 L629.46 703.72 L629.46 705.93 L630.22 707.40 L631.74 708.88 L634.02 709.61 L635.54 709.61 L637.82 708.88 L639.34 707.40 L640.10 705.93 L640.10 703.72 L639.34 702.24 L637.82 700.77 M624.14 694.87 L637.06 694.87 L639.34 694.14 L640.10 692.66 L640.10 691.19 M629.46 697.09 L629.46 691.93 M626.42 663.18 L633.26 674.98 L640.10 663.18 M627.18 644.02 L626.42 642.55 L624.14 640.34 L640.10 640.34 M624.14 622.65 L624.14 630.02 L630.98 630.76 L630.22 630.02 L629.46 627.81 L629.46 625.60 L630.22 623.39 L631.74 621.91 L634.02 621.17 L635.54 621.17 L637.82 621.91 L639.34 623.39 L640.10 625.60 L640.10 627.81 L639.34 630.02 L638.58 630.76 L637.06 631.49 M619.87 614.93 L620.46 616.07 L621.65 617.22 L623.43 617.80 L624.61 617.80 L626.39 617.22 L627.58 616.07 L628.17 614.93 L628.17 613.20 L627.58 612.05 L626.39 610.90 L624.61 610.33 L623.43 610.33 L621.65 610.90 L620.46 612.05 L619.87 613.20 L619.87 614.93 M688.96 825.60 L689.72 827.08 L691.24 828.55 L693.52 829.29 L695.04 829.29 L697.32 828.55 L698.84 827.08 L699.60 825.60 L699.60 823.39 L698.84 821.92 L697.32 820.45 L695.04 819.71 L693.52 819.71 L691.24 820.45 L689.72 821.92 L688.96 823.39 L688.96 825.60 M683.64 810.13 L683.64 811.60 L684.40 813.08 L686.68 813.81 L699.60 813.81 M688.96 816.02 L688.96 810.86 M683.64 801.28 L683.64 802.76 L684.40 804.23 L686.68 804.97 L699.60 804.97 M688.96 807.18 L688.96 802.02 M691.24 789.49 L689.72 790.23 L688.96 792.44 L688.96 794.65 L689.72 796.86 L691.24 797.60 L692.76 796.86 L693.52 795.39 L694.28 791.70 L695.04 790.23 L696.56 789.49 L697.32 789.49 L698.84 790.23 L699.60 792.44 L699.60 794.65 L698.84 796.86 L697.32 797.60 M693.52 785.07 L693.52 776.23 L692.00 776.23 L690.48 776.96 L689.72 777.70 L688.96 779.17 L688.96 781.38 L689.72 782.86 L691.24 784.33 L693.52 785.07 L695.04 785.07 L697.32 784.33 L698.84 782.86 L699.60 781.38 L699.60 779.17 L698.84 777.70 L697.32 776.23 M683.64 770.33 L696.56 770.33 L698.84 769.59 L699.60 768.12 L699.60 766.64 M688.96 772.54 L688.96 767.38 M685.92 750.43 L692.76 738.64 L699.60 750.43 M686.68 719.48 L685.92 718.00 L683.64 715.79 L699.60 715.79 M683.64 698.10 L683.64 705.47 L690.48 706.21 L689.72 705.47 L688.96 703.26 L688.96 701.05 L689.72 698.84 L691.24 697.37 L693.52 696.63 L695.04 696.63 L697.32 697.37 L698.84 698.84 L699.60 701.05 L699.60 703.26 L698.84 705.47 L698.08 706.21 L696.56 706.95 M679.37 690.38 L679.96 691.53 L681.15 692.68 L682.93 693.25 L684.11 693.25 L685.89 692.68 L687.08 691.53 L687.67 690.38 L687.67 688.65 L687.08 687.50 L685.89 686.36 L684.11 685.78 L682.93 685.78 L681.15 686.36 L679.96 687.50 L679.37 688.65 L679.37 690.38" fill="none" stroke="#000" stroke-width="1.95" stroke-linecap="round" stroke-linejoin="round"/>
</svg>
</body></html>
